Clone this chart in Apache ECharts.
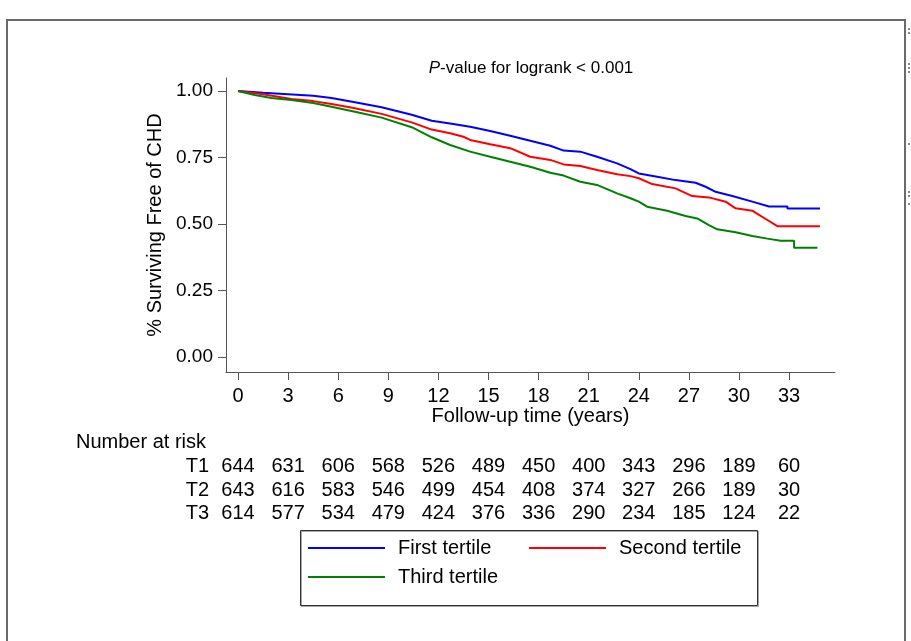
<!DOCTYPE html>
<html><head><meta charset="utf-8">
<script src="https://cdn.jsdelivr.net/npm/echarts@6/dist/echarts.min.js"></script>
<style>html,body{margin:0;padding:0;background:#fff}#c{width:911px;height:641px}</style>
</head><body><div id="c"></div>
<script>
// ---- data ----
const tickYears = [0, 3, 6, 9, 12, 15, 18, 21, 24, 27, 30, 33];
const yTicks = [0, 0.25, 0.5, 0.75, 1];
const seriesNames = ['First tertile', 'Second tertile', 'Third tertile'];
const riskGroups = ['T1', 'T2', 'T3'];
const riskT1 = [644, 631, 606, 568, 526, 489, 450, 400, 343, 296, 189, 60];
const riskT2 = [643, 616, 583, 546, 499, 454, 408, 374, 327, 266, 189, 30];
const riskT3 = [614, 577, 534, 479, 424, 376, 336, 290, 234, 185, 124, 22];

const timeT1 = [0, 1.5, 3, 4.5, 5.6, 7, 8.6, 10.4, 11.6, 12.7, 13.9, 15.1, 16.3, 17.5, 18.7, 19.5, 20.5, 21.5, 22.7, 23.5, 24, 25.1, 26.2, 27.4, 28, 28.6, 29.6, 30.8, 31.8, 32.9, 32.9, 34.85];
const survT1 = [1.0, 0.993, 0.988, 0.982, 0.974, 0.958, 0.939, 0.911, 0.888, 0.878, 0.866, 0.85, 0.832, 0.813, 0.794, 0.776, 0.772, 0.753, 0.728, 0.706, 0.69, 0.678, 0.665, 0.655, 0.64, 0.621, 0.605, 0.584, 0.566, 0.566, 0.558, 0.558];

const timeT2 = [0, 1.4, 3.2, 4.5, 5.6, 7, 8.6, 10.4, 11.6, 12.7, 13.5, 13.9, 15.1, 16.3, 17.5, 18.7, 19.5, 20.5, 21.5, 22.7, 23.5, 24, 24.8, 26.2, 27.2, 28.2, 29.2, 29.8, 30.8, 31.1, 31.7, 32.3, 34.85];
const survT2 = [1.0, 0.989, 0.97, 0.962, 0.951, 0.935, 0.914, 0.882, 0.855, 0.841, 0.828, 0.816, 0.8, 0.785, 0.753, 0.741, 0.724, 0.718, 0.703, 0.687, 0.68, 0.672, 0.65, 0.634, 0.605, 0.6, 0.584, 0.559, 0.55, 0.538, 0.515, 0.492, 0.492];

const timeT3 = [0, 1, 2, 3.2, 4.5, 5.6, 7, 8.6, 10.4, 11.6, 12.7, 13.9, 15.1, 16.3, 17.5, 18.7, 19.5, 20.5, 21.5, 22.7, 23.5, 24, 24.5, 25.7, 26.8, 27.5, 28.2, 28.7, 29.8, 30.8, 31.7, 32.5, 33.3, 33.3, 34.7];
const survT3 = [1.0, 0.985, 0.974, 0.966, 0.955, 0.941, 0.922, 0.9, 0.864, 0.826, 0.797, 0.772, 0.753, 0.734, 0.715, 0.693, 0.682, 0.659, 0.647, 0.615, 0.597, 0.584, 0.565, 0.55, 0.53, 0.521, 0.496, 0.48, 0.469, 0.455, 0.445, 0.437, 0.437, 0.411, 0.411];

const titleText = '{i|P}-value for logrank < 0.001';

// ---- layout / style ----
const FONT = '"Liberation Sans", Arial, Helvetica, sans-serif';
const X_MIN = -0.72, X_MAX = 35.75;
const Y_MIN = -0.0564, Y_MAX = 1.0489;
const AXIS_COLOR = '#555';
const colors = ['#0000ff', '#ff0000', '#008000'];

const pairs = (t, s) => t.map((x, i) => [x, s[i]]);
const seriesData = [pairs(timeT1, survT1), pairs(timeT2, survT2), pairs(timeT3, survT3)];
const riskOffsets = [84, 108, 131];

function riskAxis(values, offset) {
  return {
    type: 'value', gridIndex: 0, position: 'bottom', offset: offset,
    min: X_MIN, max: X_MAX,
    axisLine: { show: false }, axisTick: { show: false }, splitLine: { show: false },
    axisLabel: {
      customValues: tickYears, margin: 0, fontSize: 20, color: '#000', fontFamily: FONT,
      formatter: v => String(values[tickYears.indexOf(Math.round(v))])
    }
  };
}

const chart = echarts.init(document.getElementById('c'), null, { renderer: 'canvas' });

const legendText = { fontSize: 20, color: '#000', fontFamily: FONT, lineHeight: 20, padding: [0, 0, 0, 8] };

const option = {
  backgroundColor: '#fff',
  animation: false,
  grid: { left: 226, right: 76, top: 78, bottom: 269, containLabel: false },
  legend: [
    {
      data: seriesNames.slice(0, 2), left: 308, top: 538, orient: 'horizontal',
      icon: 'rect', itemWidth: 77, itemHeight: 2, itemGap: 21, padding: 0,
      textStyle: Object.assign({ width: 110 }, legendText)
    },
    {
      data: seriesNames.slice(2), left: 308, top: 567, orient: 'horizontal',
      icon: 'rect', itemWidth: 77, itemHeight: 2, padding: 0,
      textStyle: legendText
    }
  ],
  xAxis: [
    {
      type: 'value', gridIndex: 0, position: 'bottom', min: X_MIN, max: X_MAX,
      name: 'Follow-up time (years)', nameLocation: 'middle', nameGap: 31,
      nameTextStyle: { fontSize: 20, color: '#000', fontFamily: FONT },
      axisLine: { show: true, onZero: false, lineStyle: { color: AXIS_COLOR, width: 1 } },
      axisTick: { show: true, customValues: tickYears, length: 8, lineStyle: { color: AXIS_COLOR } },
      axisLabel: { customValues: tickYears, margin: 14, fontSize: 20, color: '#000', fontFamily: FONT },
      splitLine: { show: false }
    },
    riskAxis(riskT1, riskOffsets[0]),
    riskAxis(riskT2, riskOffsets[1]),
    riskAxis(riskT3, riskOffsets[2])
  ],
  yAxis: {
    type: 'value', min: Y_MIN, max: Y_MAX,
    name: '% Surviving Free of CHD', nameLocation: 'middle', nameGap: 61,
    nameTextStyle: { fontSize: 20, color: '#000', fontFamily: FONT },
    axisLine: { show: true, onZero: false, lineStyle: { color: AXIS_COLOR, width: 1 } },
    axisTick: { show: true, customValues: yTicks, length: 8, lineStyle: { color: AXIS_COLOR } },
    axisLabel: { customValues: yTicks, margin: 13, fontSize: 19, color: '#000', fontFamily: FONT, formatter: v => v.toFixed(2) },
    splitLine: { show: false }
  },
  series: seriesNames.map((n, i) => ({
    name: n, type: 'line', symbol: 'none', xAxisIndex: 0, yAxisIndex: 0,
    data: seriesData[i], color: colors[i],
    lineStyle: { color: colors[i], width: 2 }
  })),
  graphic: [
    { type: 'rect', silent: true, z: -10, shape: { x: 7, y: 20, width: 898, height: 640 }, style: { fill: 'none', stroke: '#6a6a6a', lineWidth: 2 } },
    { type: 'rect', silent: true, shape: { x: 300.5, y: 530.5, width: 457, height: 75 }, style: { fill: 'none', stroke: '#333', lineWidth: 1, shadowColor: 'rgba(0,0,0,0.35)', shadowOffsetX: 1, shadowOffsetY: 1 } },
    {
      type: 'text', silent: true,
      style: {
        text: titleText, x: 531, y: 68, align: 'center', verticalAlign: 'middle',
        fontSize: 17, fill: '#000', fontFamily: FONT,
        rich: { i: { fontStyle: 'italic', fontSize: 17, fill: '#000', fontFamily: FONT } }
      }
    },
    { type: 'text', silent: true, style: { text: 'Number at risk', x: 76, y: 442, align: 'left', verticalAlign: 'middle', fontSize: 20, fill: '#000', fontFamily: FONT } },
    ...riskGroups.map((g, i) => ({
      type: 'text', silent: true,
      style: { text: g, x: 209, y: 372 + riskOffsets[i] + 10, align: 'right', verticalAlign: 'middle', fontSize: 20, fill: '#000', fontFamily: FONT }
    })),
    ...[28, 32, 63, 67, 71, 143, 191, 195, 203].map(y => ({
      type: 'rect', silent: true, shape: { x: 908, y: y, width: 2, height: 2 }, style: { fill: '#888' }
    }))
  ]
};
chart.setOption(option);
</script>
</body></html>
